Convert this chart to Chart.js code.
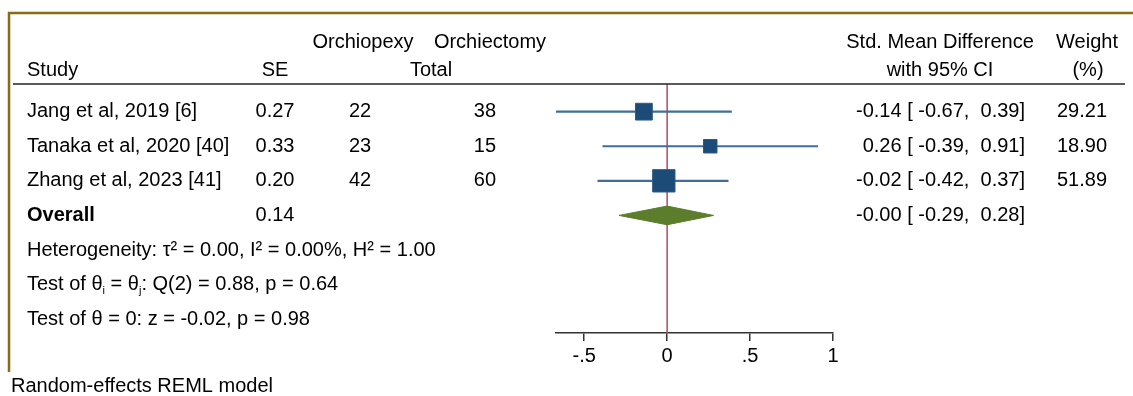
<!DOCTYPE html>
<html>
<head>
<meta charset="utf-8">
<script src="https://cdn.jsdelivr.net/npm/chart.js@4.4.1/dist/chart.umd.min.js"></script>
<style>
  html, body { margin: 0; padding: 0; background: #fff; }
  #wrap { position: relative; width: 1133px; height: 396px; }
</style>
</head>
<body>
<div id="wrap"><canvas id="forest" width="1133" height="396"></canvas></div>
<script>
// data
const studies = ["Jang et al, 2019 [6]", "Tanaka et al, 2020 [40]", "Zhang et al, 2023 [41]"];
const studySE = [0.27, 0.33, 0.20];
const nOrchiopexy = [22, 23, 42];
const nOrchiectomy = [38, 15, 60];
const smd = [-0.14, 0.26, -0.02];
const ciLow = [-0.67, -0.39, -0.42];
const ciHigh = [0.39, 0.91, 0.37];
const weights = [29.21, 18.90, 51.89];

const overallSmd = -0.00;
const overallLow = -0.29;
const overallHigh = 0.28;
const overallSE = 0.14;

const tau2 = 0.00, iSquared = 0.00, hSquared = 1.00;
const qStat = 0.88, qDf = 2, qP = 0.64;
const zStat = -0.02, zP = 0.98;

const xTicks = [-0.5, 0, 0.5, 1];
const xTickLabels = ["-.5", "0", ".5", "1"];

// rows on the y scale (1..3 studies, 4 overall, 5..7 notes)
const studyRows = [1, 2, 3];
const overallRow = 4;
const noteRows = [5, 6, 7];

const FONT = '"Liberation Sans", Arial, Helvetica, sans-serif';
const FS = 20;

function fmt(v) {
  const neg = v < 0 || Object.is(v, -0);
  return (neg ? "-" : "") + Math.abs(v).toFixed(2);
}
function ciText(e, lo, hi) {
  return fmt(e) + " [ " + fmt(lo) + ",  " + fmt(hi) + "]";
}

// draw a line of text made of pieces, some of them as small subscripts
function drawPieces(ctx, x, y, pieces) {
  let cx = x;
  pieces.forEach(p => {
    if (p.sub) {
      ctx.font = `${FS * 0.55}px ${FONT}`;
      ctx.fillText(p.t, cx, y + 6);
    } else {
      ctx.font = `${FS}px ${FONT}`;
      ctx.fillText(p.t, cx, y);
    }
    cx += ctx.measureText(p.t).width;
  });
}

const tablePlugin = {
  id: "tablePlugin",
  afterDraw(chart) {
    const ctx = chart.ctx;
    const y = chart.scales.y;
    const area = chart.chartArea;
    ctx.save();

    // frame (top and left only)
    ctx.strokeStyle = "#8a6a12";
    ctx.lineWidth = 2.5;
    ctx.beginPath();
    ctx.moveTo(9, 372);
    ctx.lineTo(9, 13);
    ctx.lineTo(1133, 13);
    ctx.stroke();

    // header rule
    ctx.strokeStyle = "#222";
    ctx.lineWidth = 1.5;
    ctx.beginPath();
    ctx.moveTo(13, area.top);
    ctx.lineTo(1125, area.top);
    ctx.stroke();

    ctx.fillStyle = "#000";
    ctx.textBaseline = "middle";
    ctx.font = `${FS}px ${FONT}`;

    // headers
    ctx.textAlign = "left";
    ctx.fillText("Study", 27, 70);
    ctx.textAlign = "center";
    ctx.fillText("SE", 275, 70);
    ctx.fillText("Orchiopexy", 363, 42);
    ctx.fillText("Orchiectomy", 490, 42);
    ctx.fillText("Total", 431, 70);
    ctx.fillText("Std. Mean Difference", 940, 42);
    ctx.fillText("with 95% CI", 940, 70);
    ctx.fillText("Weight", 1087, 42);
    ctx.fillText("(%)", 1088, 70);

    // study rows
    studies.forEach((name, i) => {
      const py = y.getPixelForValue(studyRows[i]);
      ctx.textAlign = "left";
      ctx.fillText(name, 27, py);
      ctx.textAlign = "center";
      ctx.fillText(studySE[i].toFixed(2), 275, py);
      ctx.fillText(String(nOrchiopexy[i]), 360, py);
      ctx.textAlign = "right";
      ctx.fillText(String(nOrchiectomy[i]), 496, py);
      ctx.fillText(ciText(smd[i], ciLow[i], ciHigh[i]), 1025, py);
      ctx.fillText(weights[i].toFixed(2), 1107, py);
    });

    // overall row
    const oy = y.getPixelForValue(overallRow);
    ctx.textAlign = "left";
    ctx.font = `bold ${FS}px ${FONT}`;
    ctx.fillText("Overall", 27, oy);
    ctx.font = `${FS}px ${FONT}`;
    ctx.textAlign = "center";
    ctx.fillText(overallSE.toFixed(2), 275, oy);
    ctx.textAlign = "right";
    ctx.fillText(ciText(overallSmd, overallLow, overallHigh), 1025, oy);

    // notes
    ctx.textAlign = "left";
    ctx.fillText(`Heterogeneity: \u03c4\u00b2 = ${fmt(tau2)}, I\u00b2 = ${fmt(iSquared)}%, H\u00b2 = ${fmt(hSquared)}`,
      27, y.getPixelForValue(noteRows[0]));
    drawPieces(ctx, 27, y.getPixelForValue(noteRows[1]), [
      { t: "Test of \u03b8" }, { t: "i", sub: true }, { t: " = \u03b8" }, { t: "j", sub: true },
      { t: `: Q(${qDf}) = ${fmt(qStat)}, p = ${fmt(qP)}` }
    ]);
    ctx.font = `${FS}px ${FONT}`;
    ctx.fillText(`Test of \u03b8 = 0: z = ${fmt(zStat)}, p = ${fmt(zP)}`, 27, y.getPixelForValue(noteRows[2]));

    ctx.fillText("Random-effects REML model", 11, 386);
    ctx.restore();
  }
};

const yMin = 0.2, yMax = 7.4;
const diamondHalf = 0.27;

const datasets = [];

// line of no effect
datasets.push({
  type: "line",
  data: [{ x: 0, y: yMin }, { x: 0, y: yMax }],
  borderColor: "#b34a5c",
  borderWidth: 1.5,
  pointRadius: 0,
  order: 4
});

// confidence intervals
studies.forEach((s, i) => {
  datasets.push({
    type: "line",
    data: [{ x: ciLow[i], y: studyRows[i] }, { x: ciHigh[i], y: studyRows[i] }],
    borderColor: "#3f6e99",
    borderWidth: 2.2,
    pointRadius: 0,
    order: 3
  });
});

// weighted squares
datasets.push({
  type: "scatter",
  data: smd.map((v, i) => ({ x: v, y: studyRows[i] })),
  pointStyle: "rect",
  pointRadius: weights.map(w => 3.1 * Math.sqrt(w) / Math.SQRT2),
  backgroundColor: "#1b4b76",
  borderColor: "#2a5a85",
  borderWidth: 1,
  order: 2
});

// overall diamond
datasets.push({
  type: "line",
  data: [
    { x: overallLow, y: overallRow },
    { x: overallSmd, y: overallRow - diamondHalf },
    { x: overallHigh, y: overallRow },
    { x: overallSmd, y: overallRow + diamondHalf },
    { x: overallLow, y: overallRow }
  ],
  borderColor: "#5b7d2c",
  backgroundColor: "#5b7d2c",
  borderWidth: 1,
  fill: "shape",
  tension: 0,
  pointRadius: 0,
  order: 1
});

new Chart(document.getElementById("forest"), {
  type: "scatter",
  data: { datasets },
  options: {
    responsive: false,
    animation: false,
    devicePixelRatio: 1,
    layout: { padding: { left: 556, right: 300, top: 84, bottom: 33 } },
    plugins: { legend: { display: false }, tooltip: { enabled: false } },
    scales: {
      x: {
        type: "linear",
        position: "bottom",
        min: -0.67,
        max: 1,
        afterBuildTicks: axis => { axis.ticks = xTicks.map(v => ({ value: v })); },
        afterFit: axis => { axis.height = 30; },
        ticks: {
          color: "#000",
          font: { family: FONT, size: FS },
          padding: 3,
          maxRotation: 0,
          callback: v => xTickLabels[xTicks.indexOf(v)]
        },
        grid: { drawOnChartArea: false, drawTicks: true, tickLength: 8, color: "#333", lineWidth: 1.5 },
        border: { display: true, color: "#333", width: 1.5 }
      },
      y: {
        type: "linear",
        reverse: true,
        min: yMin,
        max: yMax,
        display: false
      }
    }
  },
  plugins: [tablePlugin]
});
</script>
</body>
</html>
